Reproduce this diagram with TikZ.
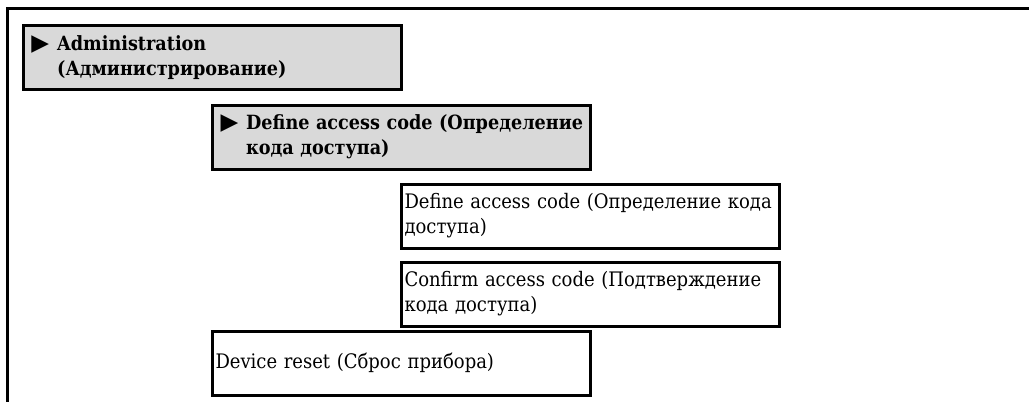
\documentclass[tikz,border=0pt]{standalone}
\usepackage{fontspec}
\setmainfont{DejaVu Serif Condensed}
\newfontfamily\symfont{DejaVu Sans}
\usepackage{xcolor}
\definecolor{menu}{HTML}{D9D9D9}
\newcommand{\menuentry}[1]{\makebox[0pt][l]{%
  {\symfont\fontsize{11.5}{12}\selectfont\char"25B6}\hspace{4pt}\parbox[t]{200pt}{#1}}}

\begin{document}
\begin{tikzpicture}[x=0.5pt, y=-0.5pt,
  box/.style={draw, line width=1.5pt, outer sep=0pt, anchor=north west,
    minimum width=189pt, minimum height=32pt, inner xsep=1.5pt, inner ysep=0pt,
    text width=186pt, align=left, font=\fontsize{10}{12.5}\selectfont},
  menubox/.style={box, fill=menu, inner xsep=4pt, text width=181pt,
    font=\fontsize{9.8}{12.3}\selectfont\bfseries}]
  \useasboundingbox (0,0) rectangle (1029,402);
  \draw[line width=1.5pt] (1029,8.5) -| (7.5,402);

  \node[menubox] (admin) at (23.5,25.5)
    {\menuentry{Administration\\(Администрирование)}};
  \node[menubox] (defmenu) at (212.5,105)
    {\menuentry{Define access code (Определение\\кода доступа)}};

  \node[box] (defcode) at (401.5,184) {Define access code (Определение кода\newline доступа)};
  \node[box] (confcode) at (401.5,262) {Confirm access code (Подтверждение\newline кода доступа)};
  \node[box] (reset) at (212.5,331) {Device reset (Сброс прибора)};
\end{tikzpicture}
\end{document}
